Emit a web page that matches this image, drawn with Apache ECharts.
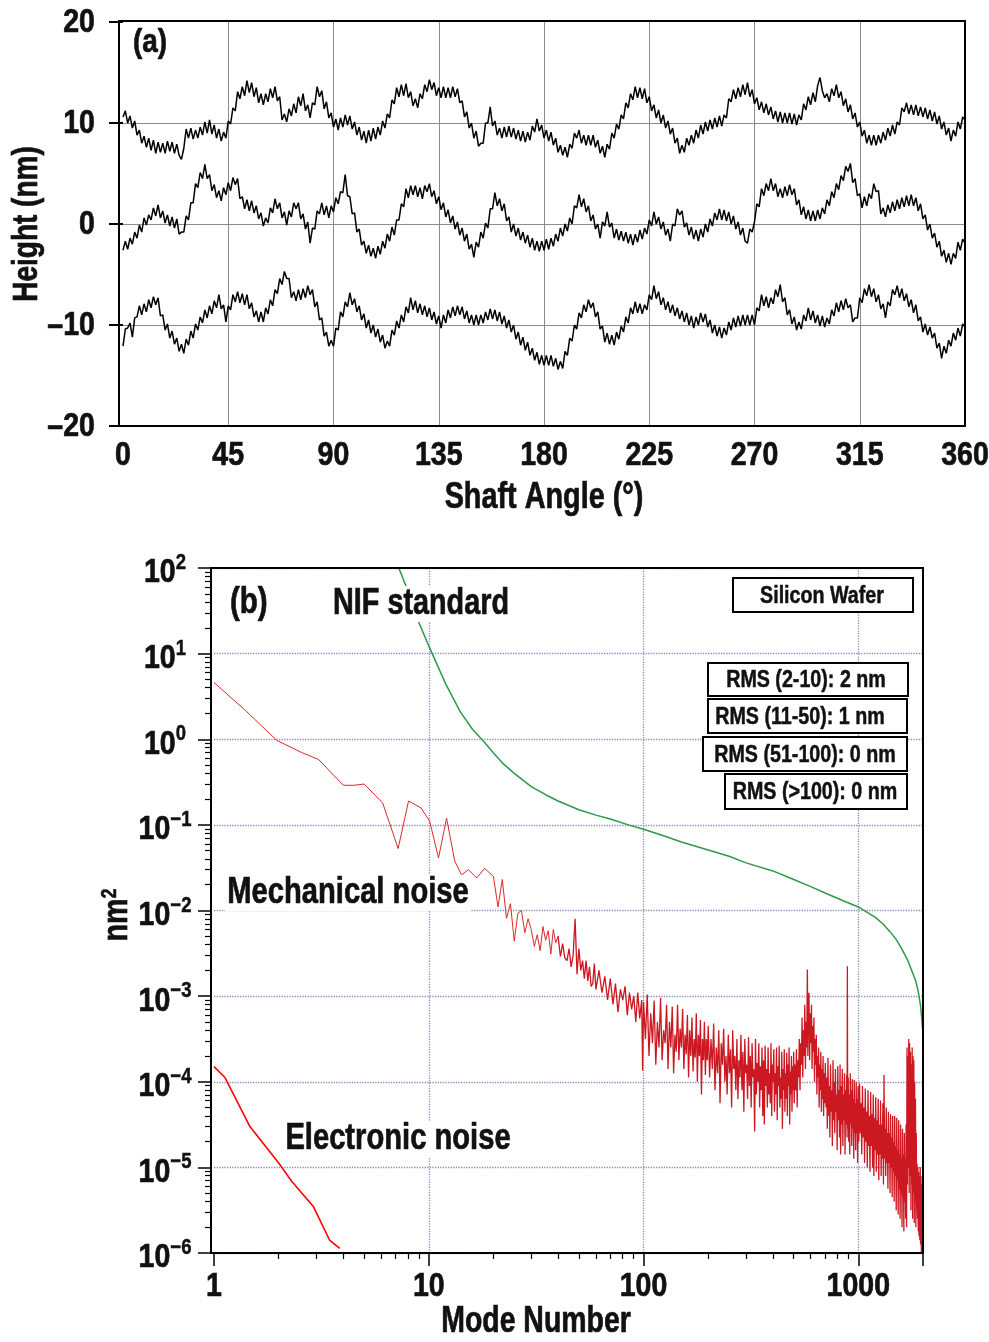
<!DOCTYPE html>
<html>
<head>
<meta charset="utf-8">
<script src="https://cdn.jsdelivr.net/npm/echarts@6/dist/echarts.min.js"></script>
<style>html,body{margin:0;padding:0;background:#fff}#c{width:989px;height:1342px}</style>
</head>
<body>
<div id="c"></div>
<script>
// ---------- DATA ----------
// (a) surface height traces, one value per degree of shaft angle (0..360)
const angleStep = 1;
const traceTop = [
10.6,11.2,10.0,10.7,9.5,10.2,8.8,9.3,8.0,8.7,
7.6,8.5,7.3,8.3,7.0,8.1,7.1,8.0,7.0,8.2,
7.2,8.1,7.0,7.9,6.8,6.4,7.5,9.4,8.5,9.5,
8.4,9.3,8.5,9.6,8.8,10.1,9.0,10.3,8.9,9.8,
8.5,9.4,8.2,9.1,8.5,10.2,9.9,11.5,11.2,13.1,
12.4,13.6,12.7,14.2,13.0,14.0,12.6,13.5,12.0,12.9,
11.8,12.9,12.1,13.4,12.5,13.6,12.2,12.6,10.3,10.9,
10.1,11.4,10.7,11.9,11.0,12.6,11.7,12.9,11.2,11.8,
10.5,12.0,11.8,13.6,12.6,13.2,11.4,12.1,10.5,11.0,
9.6,10.4,9.3,10.5,9.6,10.8,9.8,10.7,9.4,10.1,
8.8,9.6,8.3,9.2,8.0,9.3,8.2,9.5,8.4,9.6,
8.8,10.2,9.5,10.9,10.5,12.3,11.9,13.5,12.6,13.8,
12.7,13.9,12.5,13.1,11.7,12.4,11.5,12.9,12.4,13.8,
13.1,14.3,13.3,14.0,12.7,13.5,12.5,13.6,12.5,13.5,
12.5,13.6,12.6,13.4,12.0,12.2,10.6,11.1,9.5,10.0,
8.5,9.2,7.7,8.0,8.0,10.0,10.0,11.6,9.7,10.2,
8.8,9.5,8.5,9.6,8.6,9.7,8.6,9.5,8.4,9.3,
8.2,9.2,8.1,9.1,8.3,9.7,9.1,10.4,9.2,9.8,
8.5,9.3,8.2,9.1,7.8,8.5,7.1,7.8,6.8,7.6,
6.6,7.9,7.5,9.0,8.5,9.3,8.0,8.8,7.8,8.8,
7.8,8.8,7.6,8.3,7.0,7.7,6.6,7.9,7.4,9.0,
8.5,9.9,9.4,10.8,10.4,12.0,11.5,12.9,12.3,13.6,
12.5,13.5,12.4,13.4,12.0,12.6,11.2,11.8,10.5,11.3,
10.0,10.8,9.5,10.2,8.9,9.5,8.0,8.5,7.0,7.8,
7.1,8.5,7.8,8.8,8.0,9.3,8.5,9.8,8.9,10.1,
9.2,10.3,9.4,10.5,9.6,10.7,9.7,10.8,10.5,12.4,
12.1,13.3,12.4,13.5,12.6,13.8,12.8,14.0,12.6,13.3,
11.9,12.5,11.3,12.1,11.0,11.9,10.8,11.6,10.4,11.2,
10.1,11.1,10.0,11.0,10.0,11.0,9.9,10.9,9.8,10.8,
10.3,11.9,11.3,12.6,11.8,13.0,12.1,13.7,14.5,13.2,
12.5,12.9,12.1,13.4,12.7,13.8,12.5,13.1,11.7,12.4,
11.1,11.8,10.4,11.0,9.6,10.1,8.7,9.3,8.0,8.8,
7.8,8.8,7.8,8.8,8.0,9.1,8.3,9.5,8.7,9.8,
8.9,10.1,9.8,11.5,11.1,12.0,10.9,11.8,10.8,11.8,
10.7,11.6,10.6,11.5,10.4,11.3,10.2,11.1,9.9,10.7,
9.4,10.1,8.8,9.5,8.2,9.3,8.7,10.1,9.4,10.6,10.3];
const traceMid = [
-2.6,-1.7,-2.5,-1.4,-2.0,-0.8,-1.4,-0.1,-0.8,0.6,
-0.1,0.9,0.4,1.6,0.8,1.9,0.6,1.3,0.1,0.9,
-0.2,0.7,-0.4,0.5,-1.0,-0.8,-0.8,0.8,0.4,2.1,
2.1,4.0,3.6,5.1,4.5,5.9,4.5,4.9,3.3,3.9,
2.6,3.3,2.3,3.6,2.9,4.1,3.3,4.6,3.9,4.5,
2.5,2.7,1.5,2.4,1.3,2.3,1.1,1.8,0.5,1.1,
-0.2,0.6,0.1,1.6,1.1,2.5,1.5,2.1,0.6,1.2,
-0.1,1.3,0.7,2.1,1.5,2.1,0.5,1.0,-0.5,0.2,
-1.9,-0.4,-0.5,1.3,1.0,2.1,0.9,1.8,0.6,1.8,
1.2,2.6,2.0,3.2,3.1,4.9,2.8,2.7,1.0,1.1,
-0.8,-0.5,-2.1,-1.7,-2.9,-2.1,-3.2,-2.4,-3.4,-2.2,
-3.0,-1.7,-2.4,-1.0,-1.7,-0.3,-1.1,0.4,0.4,2.0,
1.7,3.5,2.6,3.8,2.9,3.8,2.7,3.6,2.5,3.8,
3.2,4.0,2.7,3.3,2.0,2.7,1.4,2.1,0.7,1.4,
0.1,0.8,-0.5,0.2,-1.1,-0.4,-1.7,-1.0,-2.5,-2.0,
-3.3,-1.8,-2.3,-0.8,-1.4,0.1,-0.4,1.5,1.5,3.1,
1.8,2.5,1.3,2.0,0.3,0.7,-0.8,0.0,-1.2,-0.4,
-1.6,-0.8,-1.9,-1.1,-2.3,-1.4,-2.6,-1.7,-2.7,-1.7,
-2.6,-1.5,-2.5,-1.4,-2.2,-1.0,-1.7,-0.4,-1.2,0.0,
-0.7,0.6,0.0,1.8,1.6,2.9,1.7,2.5,1.2,1.8,
0.3,0.9,-0.5,0.0,-1.4,0.2,-0.2,1.2,-0.3,0.1,
-1.4,-0.5,-1.6,-0.7,-1.7,-0.8,-1.9,-1.0,-2.1,-1.0,
-1.8,-0.6,-1.5,-0.4,-1.0,0.4,-0.2,1.2,0.0,0.7,
-0.5,0.2,-1.1,-0.5,-1.7,0.0,-0.2,1.5,0.9,1.3,
-0.3,0.1,-1.1,-0.3,-1.5,-0.6,-1.7,-0.5,-1.3,0.0,
-0.8,0.5,-0.2,1.1,0.4,1.5,0.4,1.4,0.3,1.2,
0.0,0.8,-0.5,0.2,-1.1,-0.4,-1.7,-1.9,-0.5,-0.8,
0.2,2.0,1.7,3.5,2.8,4.0,3.3,4.5,3.3,4.0,
2.7,3.5,2.6,3.7,2.8,3.9,2.9,3.5,1.9,2.4,
0.9,1.7,0.5,1.4,0.3,1.3,0.3,1.4,0.5,1.6,
1.0,2.4,1.8,3.2,2.6,4.0,3.4,4.8,4.3,5.7,
5.2,6.0,4.1,4.5,2.8,3.0,1.6,2.7,1.8,3.0,
2.5,4.0,3.2,3.3,1.0,1.6,0.7,1.9,1.1,2.2,
1.3,2.4,1.5,2.6,1.7,2.8,1.8,2.9,1.8,2.6,
1.3,2.0,0.5,0.9,-0.6,0.0,-1.4,-0.9,-2.3,-1.7,
-3.2,-2.6,-3.8,-2.9,-4.0,-2.9,-3.4,-1.8,-2.6,-1.5,-1.9];
const traceLow = [
-12.1,-10.4,-10.3,-9.8,-11.2,-9.3,-9.2,-8.1,-9.0,-7.9,
-8.7,-7.5,-8.3,-7.2,-8.0,-7.3,-9.1,-9.0,-10.5,-9.9,
-11.3,-10.6,-11.9,-11.3,-12.6,-11.9,-12.8,-11.4,-12.0,-10.6,
-11.3,-9.9,-10.5,-9.2,-9.8,-8.5,-9.3,-8.1,-8.9,-7.6,
-8.3,-7.0,-8.4,-8.0,-9.7,-8.1,-8.5,-7.0,-7.7,-6.7,
-7.8,-6.9,-8.0,-7.0,-8.4,-7.8,-9.2,-8.6,-9.7,-8.7,
-9.7,-8.3,-8.9,-7.5,-8.1,-6.5,-6.9,-5.4,-6.0,-4.7,
-5.4,-5.4,-7.3,-6.7,-7.6,-6.5,-7.5,-6.4,-7.3,-6.1,
-7.0,-6.5,-8.2,-7.7,-9.5,-9.3,-11.1,-10.7,-12.1,-11.5,
-12.1,-10.3,-10.5,-8.7,-9.2,-7.7,-8.2,-6.8,-8.0,-7.4,
-8.7,-8.1,-9.5,-8.9,-10.3,-9.5,-10.8,-10.0,-11.2,-10.4,
-11.7,-11.0,-12.3,-11.6,-12.1,-10.5,-11.0,-9.6,-10.3,-9.0,
-9.7,-8.2,-8.8,-7.3,-8.5,-7.6,-8.8,-7.9,-9.0,-8.1,
-9.2,-8.3,-9.5,-8.7,-9.9,-9.1,-10.3,-9.0,-9.8,-8.5,
-9.3,-8.2,-9.1,-8.1,-9.0,-8.2,-9.4,-8.6,-9.8,-9.0,
-10.0,-9.0,-10.0,-9.0,-9.8,-8.7,-9.5,-8.4,-9.4,-8.5,
-9.6,-8.7,-9.9,-9.1,-10.3,-9.5,-10.7,-10.0,-11.4,-10.7,
-12.0,-11.2,-12.5,-11.7,-13.0,-12.3,-13.5,-12.7,-13.9,-13.0,
-14.0,-13.0,-14.0,-13.0,-14.1,-13.3,-14.4,-13.6,-14.3,-12.6,
-13.0,-11.3,-11.6,-10.0,-10.4,-8.8,-9.3,-8.0,-8.7,-7.5,
-8.3,-7.8,-9.2,-8.7,-10.4,-10.1,-11.7,-10.8,-11.9,-11.0,
-12.0,-10.7,-11.4,-10.1,-10.7,-9.2,-9.8,-8.3,-8.9,-7.7,
-8.8,-7.9,-8.9,-8.0,-8.5,-7.0,-7.5,-6.1,-7.4,-6.7,
-8.0,-7.3,-8.5,-7.7,-8.8,-8.0,-9.1,-8.3,-9.4,-8.6,
-9.7,-8.8,-10.0,-9.1,-10.3,-9.2,-10.0,-8.8,-9.7,-8.9,
-10.2,-9.5,-10.8,-10.0,-11.1,-10.2,-11.3,-10.3,-11.0,-9.7,
-10.5,-9.3,-10.2,-9.1,-10.1,-9.0,-10.0,-9.0,-10.0,-9.0,
-10.0,-8.3,-8.6,-7.0,-8.1,-7.2,-8.3,-7.3,-7.9,-6.5,
-7.2,-6.0,-7.7,-7.3,-9.0,-8.5,-9.9,-9.2,-10.5,-9.7,
-10.4,-9.0,-9.6,-8.3,-9.5,-8.6,-9.8,-9.0,-10.1,-9.1,
-10.2,-9.3,-9.9,-8.5,-9.1,-7.8,-8.7,-7.6,-8.5,-7.4,
-8.3,-8.0,-9.7,-9.3,-9.3,-7.3,-7.8,-6.4,-7.1,-6.0,
-7.2,-6.4,-7.7,-7.0,-8.4,-7.9,-9.3,-7.7,-8.1,-6.5,
-7.0,-6.1,-7.3,-6.4,-7.6,-6.9,-8.2,-7.5,-8.8,-8.0,
-9.6,-9.2,-10.7,-9.9,-11.0,-10.2,-11.3,-10.8,-12.3,-11.8,
-13.3,-12.1,-12.8,-11.5,-12.1,-10.8,-11.5,-10.3,-11.1,-9.9,-10.2];

// (b) power spectra [mode number, nm^2]
const nifStandard = [
[7,125],[8,54],[9,23],[10,12.3],[11,7.2],[12,4.4],[13,3.0],[14,2.1],[16,1.3],[18,0.95],[20,0.69],[22,0.53],
[25,0.4],[30,0.28],[35,0.225],[40,0.19],[50,0.15],[60,0.13],[70,0.117],[85,0.1],[100,0.089],[125,0.074],
[150,0.063],[200,0.051],[250,0.043],[300,0.036],[400,0.029],[500,0.023],[600,0.019],[700,0.016],[850,0.013],
[1000,0.011],[1100,0.0095],[1200,0.0083],[1300,0.007],[1400,0.0057],[1500,0.0046],[1600,0.0035],[1700,0.0026],
[1800,0.0018],[1850,0.0015],[1900,0.00114],[1950,0.00076],[1980,0.0005],[2000,0.00035],[2000,0.000145]];
// mechanical noise, modes 1..99: [mode, nm^2]
const mechanicalNoise = [
[1,4.6],[1.42,2.1],[1.96,0.97],[2.56,0.7],[3.07,0.58],[4,0.29],[4.5,0.29],[5,0.3],[6.1,0.18],[7.2,0.053],
[8.05,0.19],[9.2,0.158],[10.1,0.11],[11.1,0.041],[12.1,0.12],[13.2,0.038],[14.2,0.026],[15.3,0.03],[16.7,0.024],
[18.2,0.031],[20,0.025],[21,0.011],[22,0.023],[23,0.0081],[24,0.012],[25,0.0044],[26,0.0093],[27,0.01],[28,0.0055],
[29,0.008],[30,0.006],[31,0.0038],[32,0.0052],[33,0.0034],[34,0.0065],[35,0.0045],[36,0.0058],[37,0.0031],[38,0.006],
[39,0.0042],[40,0.005],[41,0.0029],[42,0.0041],[43,0.0028],[44,0.0026],[45,0.0036],[46,0.0022],[47,0.003],[48,0.008],
[49,0.0018],[50,0.0036],[51,0.002],[52,0.0026],[53,0.0016],[54,0.0026],[55,0.0015],[56,0.0022],[57,0.0013],[58,0.0014],
[59,0.0024],[60,0.0012],[62,0.002],[64,0.0011],[66,0.0017],[68,0.0009],[70,0.0016],[72,0.0008],[74,0.0014],[76,0.00065],
[78,0.0012],[80,0.0009],[82,0.0013],[84,0.0006],[86,0.0011],[88,0.0007],[90,0.001],[92,0.0005],[94,0.0011],[96,0.00055],
[98,0.0009],[99,0.000135]];
const mechanicalNoiseHighLog10 = [
[100,-3.07],[102,-3.5],[104,-2.98],[106,-3.7],[108,-3.2],[110,-3.55],[112,-3.05],[114,-3.8],[116,-3.3],[118,-3.6],
[120,-3.02],[122,-3.75],[124,-3.4],[126,-3.55],[128,-3.1],[130,-3.85],[132,-3.3],[134,-3.6],[136,-3.12],[138,-3.9],
[140,-3.45],[142,-3.65],[144,-3.1],[146,-3.75],[148,-3.38],[150,-3.6],[152,-3.15],[154,-3.85],[156,-3.45],[158,-3.68],
[160,-3.22],[162,-3.95],[164,-3.4],[166,-3.7],[168,-3.25],[170,-3.88],[172,-3.5],[174,-3.72],[176,-3.2],[178,-4.0],
[180,-3.45],[182,-3.7],[184,-3.28],[186,-4.15],[188,-3.5],[190,-3.75],[192,-3.3],[194,-3.92],[196,-3.5],[198,-3.75],
[200,-3.35],[203,-3.95],[206,-3.5],[209,-3.85],[212,-3.32],[215,-4.1],[218,-3.6],[221,-3.9],[224,-3.4],[227,-4.25],
[230,-3.55],[233,-3.8],[236,-3.38],[239,-4.0],[242,-3.7],[245,-4.15],[248,-3.45],[251,-3.9],[254,-3.62],[257,-4.3],
[260,-3.4],[263,-3.85],[266,-3.7],[269,-4.1],[272,-3.5],[275,-4.2],[278,-3.75],[281,-3.95],[284,-3.45],[287,-4.1],
[290,-3.65],[293,-4.35],[296,-3.5],[299,-3.9],[302,-3.8],[305,-4.2],[308,-3.48],[311,-4.05],[314,-3.7],[317,-4.3],
[320,-3.55],[323,-3.95],[326,-3.85],[329,-4.58],[332,-3.5],[335,-4.15],[338,-3.78],[341,-4.0],[344,-3.55],[347,-4.3],
[350,-3.82],[353,-4.1],[356,-3.6],[359,-4.4],[362,-3.75],[365,-4.5],[368,-3.58],[371,-4.05],[374,-3.85],[377,-4.3],
[380,-3.6],[383,-4.15],[386,-3.9],[389,-4.25],[392,-3.55],[395,-4.4],[398,-3.8],[401,-4.0],[404,-3.62],[407,-4.35],
[410,-3.9],[413,-4.15],[416,-3.6],[419,-4.45],[422,-3.82],[425,-4.05],[428,-3.58],[431,-4.3],[434,-3.95],[437,-4.2],
[440,-3.65],[443,-4.55],[446,-3.85],[449,-4.1],[452,-3.62],[455,-4.35],[458,-3.9],[461,-4.2],[464,-3.66],[467,-4.4],
[470,-3.8],[473,-4.05],[476,-3.6],[479,-4.5],[482,-3.88],[485,-4.15],[488,-3.7],[491,-4.35],[494,-3.82],[497,-4.1],
[500,-3.65],[503,-4.25],[507,-3.8],[511,-4.1],[515,-3.62],[519,-4.3],[523,-3.75],[527,-3.95],[531,-3.5],[535,-4.1],
[539,-3.55],[543,-3.8],[547,-3.25],[551,-3.95],[555,-3.4],[559,-3.7],[563,-3.1],[567,-3.85],[571,-3.3],[575,-3.6],
[579,-2.69],[582,-3.7],[585,-3.05],[589,-2.96],[593,-3.75],[597,-3.2],[601,-3.55],[605,-3.1],[609,-3.85],[613,-3.35],
[617,-3.65],[621,-3.25],[625,-4.0],[629,-3.5],[633,-3.8],[637,-3.45],[641,-4.15],[645,-3.7],[649,-3.95],[653,-3.6],
[657,-4.3],[661,-3.8],[665,-4.1],[669,-3.65],[673,-4.35],[677,-3.85],[681,-4.2],[685,-3.7],[689,-4.4],[693,-3.9],
[697,-4.25],[702,-3.78],[707,-4.3],[712,-3.95],[717,-4.55],[722,-3.72],[727,-4.4],[732,-4.05],[737,-4.65],[742,-3.8],
[747,-4.35],[752,-4.1],[757,-4.75],[762,-3.75],[767,-4.45],[772,-4.0],[777,-4.6],[782,-3.85],[787,-4.35],[792,-4.15],
[797,-4.8],[802,-3.82],[807,-4.45],[812,-4.1],[817,-4.65],[822,-3.8],[827,-4.85],[832,-4.05],[837,-4.5],[842,-3.85],
[847,-4.75],[852,-4.15],[857,-4.45],[862,-3.9],[867,-4.85],[872,-4.1],[877,-4.5],[882,-3.92],[886,-4.65],[889,-2.65],
[892,-4.55],[897,-3.95],[902,-4.7],[907,-4.15],[912,-4.85],[917,-3.9],[922,-4.5],[927,-4.1],[932,-4.75],[937,-3.97],
[942,-4.55],[947,-4.2],[952,-4.9],[957,-3.98],[962,-4.6],[967,-4.25],[972,-4.8],[977,-4.0],[982,-4.6],[987,-4.2],
[992,-4.95],[997,-4.05],[1005,-4.7],[1013,-4.02],[1021,-4.6],[1029,-4.25],[1037,-4.85],[1045,-4.05],[1053,-4.65],[1061,-4.3],
[1069,-4.95],[1077,-4.08],[1085,-4.7],[1093,-4.35],[1101,-5.0],[1109,-4.1],[1117,-4.75],[1125,-4.4],[1133,-5.05],[1141,-4.12],
[1149,-4.75],[1157,-4.38],[1165,-5.0],[1173,-4.15],[1181,-5.1],[1189,-4.42],[1197,-4.8],[1205,-4.18],[1213,-5.05],[1221,-4.45],
[1229,-4.85],[1237,-4.2],[1245,-5.15],[1253,-4.5],[1261,-4.85],[1269,-4.22],[1277,-5.1],[1285,-4.5],[1293,-4.9],[1301,-4.25],
[1309,-5.2],[1317,-3.92],[1325,-4.9],[1333,-4.55],[1341,-5.1],[1349,-4.3],[1357,-4.95],[1365,-4.6],[1373,-5.25],[1381,-4.35],
[1389,-4.95],[1397,-4.6],[1405,-5.3],[1413,-4.38],[1421,-5.0],[1429,-4.65],[1437,-5.35],[1445,-4.4],[1453,-5.05],[1461,-4.7],
[1469,-5.4],[1477,-4.4],[1485,-5.1],[1493,-4.75],[1501,-5.5],[1509,-4.42],[1517,-5.15],[1525,-4.8],[1533,-5.55],[1541,-4.45],
[1549,-5.25],[1557,-4.85],[1565,-5.6],[1573,-4.5],[1581,-5.3],[1589,-4.9],[1597,-5.7],[1605,-4.55],[1613,-5.35],[1621,-4.85],
[1629,-5.75],[1637,-4.6],[1645,-5.4],[1653,-4.9],[1661,-5.6],[1669,-4.5],[1677,-5.7],[1685,-3.6],[1693,-5.2],[1701,-3.7],
[1709,-5.0],[1717,-3.5],[1725,-5.3],[1733,-3.55],[1741,-5.1],[1749,-3.65],[1757,-5.5],[1765,-3.8],[1773,-5.2],[1781,-3.6],
[1789,-5.6],[1797,-3.7],[1805,-5.3],[1813,-3.75],[1821,-5.65],[1829,-4.0],[1837,-5.4],[1845,-4.2],[1853,-5.7],[1861,-4.6],
[1869,-5.5],[1877,-4.96],[1885,-5.6],[1893,-5.0],[1901,-5.75],[1909,-5.05],[1917,-5.8],[1925,-5.1],[1933,-5.85],[1941,-5.0],
[1949,-5.9],[1957,-5.1],[1965,-6.0],[1973,-5.2],[1981,-6.1],[1989,-5.3],[1997,-6.3],[2000,-6.5]];
const electronicNoise = [[1,0.00015],[1.125,0.000112],[1.47,0.00003],[2.03,0.0000107],[2.3,0.0000069],[2.9,0.0000035],[3.46,0.0000014],[3.85,0.00000113]];

// tick labels
const xTicksTop = [0, 45, 90, 135, 180, 225, 270, 315, 360];
const yTicksTop = [-20, -10, 0, 10, 20];
const xTicksBottom = [1, 10, 100, 1000];
const yExpBottom = [2, 1, 0, -1, -2, -3, -4, -5, -6];
const rmsLabels = ['RMS (2-10): 2 nm', 'RMS (11-50): 1 nm', 'RMS (51-100): 0 nm', 'RMS (>100): 0 nm'];

// ---------- CHART ----------
const F = '"Liberation Sans", Arial, sans-serif';
const INK = '#111';
const SX = 0.82;
const STROKE = 0.7;
const font = s => 'bold ' + s + 'px ' + F;
const gray = '#8c8c8c', dot = '#8a8ac6';
const sup = n => (n < 0 ? '\u2212' + (-n) : '' + n);

const mechHigh = mechanicalNoise.filter(p => p[0] >= 40)
  .concat(mechanicalNoiseHighLog10.map(p => [p[0], Math.pow(10, p[1])]));
const mechLow = mechanicalNoise.filter(p => p[0] <= 40);

const chart = echarts.init(document.getElementById('c'), null, {renderer: 'canvas'});

function textEl(text, x, y, size, align, opts) {
  opts = opts || {};
  return {type: 'text', x: x, y: y, z: 60, scaleX: opts.sx || SX, rotation: opts.rot || 0,
    style: {text: text, font: font(size), fill: INK, stroke: INK, lineWidth: STROKE, align: align || 'center', verticalAlign: 'middle',
      backgroundColor: opts.bg ? '#fff' : null, padding: opts.bg ? [0, 3, 0, 3] : 0}};
}
function boxEl(text, bx, by, bw, bh, tx) {
  return {type: 'group', z: 70, children: [
    {type: 'rect', shape: {x: bx, y: by, width: bw, height: bh}, style: {fill: '#fff', stroke: '#000', lineWidth: 2}, z: 70},
    {type: 'text', x: tx, y: by + bh / 2 + 1, z: 71, scaleX: SX,
      style: {text: text, font: font(24), fill: INK, stroke: INK, lineWidth: 0.5, align: 'center', verticalAlign: 'middle'}}
  ]};
}
function powEl(e, x, y) {
  return {type: 'text', x: x, y: y, z: 60, scaleX: 0.84,
    style: {text: '{b|10}{s|' + sup(e) + '}', align: 'center', verticalAlign: 'middle', fill: INK,
      rich: {
        b: {font: font(34), fill: INK, stroke: INK, lineWidth: STROKE, lineHeight: 44, verticalAlign: 'bottom'},
        s: {font: font(22), fill: INK, stroke: INK, lineWidth: 0.5, height: 34, verticalAlign: 'top'}
      }}};
}

const noLabel = {show: false};
const option = {
  animation: false,
  backgroundColor: '#fff',
  grid: [
    {left: 123, top: 22, width: 842, height: 404},
    {left: 214, top: 568, width: 709, height: 685}
  ],
  xAxis: [
    {gridIndex: 0, type: 'value', min: 0, max: 360, interval: 45,
      axisLine: {show: false}, axisTick: {show: false}, axisLabel: noLabel,
      splitLine: {show: true, lineStyle: {color: ['transparent', gray, gray, gray, gray, gray, gray, gray, 'transparent'], width: 1}}},
    {gridIndex: 1, type: 'log', logBase: 10, min: 1, max: 2000,
      axisLine: {show: false},
      axisTick: {show: true, length: 13, lineStyle: {color: '#000', width: 1.5}},
      minorTick: {show: true, splitNumber: 9, length: 6, lineStyle: {color: '#000', width: 1.2}},
      axisLabel: noLabel,
      splitLine: {show: true, lineStyle: {type: 'dotted', width: 1.3, color: ['transparent', dot, dot, dot, 'transparent']}}}
  ],
  yAxis: [
    {gridIndex: 0, type: 'value', min: -20, max: 20, interval: 10, offset: 4,
      axisLine: {show: false},
      axisTick: {show: true, length: 14, lineStyle: {color: '#000', width: 2}},
      axisLabel: noLabel,
      splitLine: {show: true, lineStyle: {color: ['transparent', gray, gray, gray, 'transparent'], width: 1}}},
    {gridIndex: 1, type: 'log', logBase: 10, min: 1e-6, max: 100, offset: 3,
      axisLine: {show: false},
      axisTick: {show: true, length: 13, lineStyle: {color: '#000', width: 1.5}},
      minorTick: {show: true, splitNumber: 9, length: 6, lineStyle: {color: '#000', width: 1.2}},
      axisLabel: noLabel,
      splitLine: {show: true, lineStyle: {type: 'dotted', width: 1.3, color: dot}}}
  ],
  series: [
    {type: 'line', xAxisIndex: 0, yAxisIndex: 0, showSymbol: false, silent: true,
      lineStyle: {color: '#000', width: 1.5}, data: traceTop.map((v, i) => [i * angleStep, v])},
    {type: 'line', xAxisIndex: 0, yAxisIndex: 0, showSymbol: false, silent: true,
      lineStyle: {color: '#000', width: 1.5}, data: traceMid.map((v, i) => [i * angleStep, v])},
    {type: 'line', xAxisIndex: 0, yAxisIndex: 0, showSymbol: false, silent: true,
      lineStyle: {color: '#000', width: 1.5}, data: traceLow.map((v, i) => [i * angleStep, v])},
    {name: 'Mechanical noise', type: 'line', xAxisIndex: 1, yAxisIndex: 1, showSymbol: false, silent: true,
      lineStyle: {color: '#dc2a2a', width: 1}, data: mechLow},
    {name: 'Mechanical noise', type: 'line', xAxisIndex: 1, yAxisIndex: 1, showSymbol: false, silent: true,
      lineStyle: {color: '#cc1820', width: 1.3}, data: mechHigh},
    {name: 'Electronic noise', type: 'line', xAxisIndex: 1, yAxisIndex: 1, showSymbol: false, silent: true,
      lineStyle: {color: '#ff0000', width: 1.6}, data: electronicNoise},
    {name: 'NIF standard', type: 'line', xAxisIndex: 1, yAxisIndex: 1, showSymbol: false, silent: true,
      lineStyle: {color: '#2e9a48', width: 1.5}, data: nifStandard}
  ]
};
chart.setOption(option);

// ---------- TEXT (tick label positions come from the chart's own scales) ----------
const G = [
  {type: 'rect', z: 80, shape: {x: 119, y: 21, width: 846, height: 405}, style: {fill: 'transparent', stroke: '#000', lineWidth: 2}},
  {type: 'rect', z: 80, shape: {x: 211, y: 568, width: 712, height: 685}, style: {fill: 'transparent', stroke: '#000', lineWidth: 2}}
];
xTicksTop.forEach(v => {
  const p = chart.convertToPixel({gridIndex: 0}, [v, -20]);
  G.push(textEl(String(v), p[0], p[1] + 30, 34, 'center', {sx: 0.84}));
});
yTicksTop.forEach(v => {
  const p = chart.convertToPixel({gridIndex: 0}, [0, v]);
  G.push(textEl(v < 0 ? '\u2013' + (-v) : String(v), 95, p[1] + 1, 34, 'right', {sx: 0.84}));
});
xTicksBottom.forEach(v => {
  const p = chart.convertToPixel({gridIndex: 1}, [v, 1e-6]);
  G.push(textEl(String(v), p[0], p[1] + 34, 34, 'center', {sx: 0.84}));
});
yExpBottom.forEach(e => {
  const p = chart.convertToPixel({gridIndex: 1}, [1, Math.pow(10, e)]);
  G.push(powEl(e, 165, p[1]));
});
// axis titles
G.push(textEl('Shaft Angle (\u00B0)', 544, 498, 36, 'center', {sx: 0.8}));
G.push(textEl('Height (nm)', 27, 224, 35, 'center', {sx: 0.8, rot: Math.PI / 2}));
G.push({type: 'text', x: 115, y: 915, z: 60, scaleX: 0.82, rotation: Math.PI / 2,
  style: {text: '{a|nm}{b|2}', align: 'center', verticalAlign: 'middle', fill: INK,
    rich: {a: {font: font(35), fill: INK, stroke: INK, lineWidth: STROKE, lineHeight: 40, verticalAlign: 'bottom'},
           b: {font: font(22), fill: INK, stroke: INK, lineWidth: 0.5, height: 30, verticalAlign: 'top'}}}});
G.push(textEl('Mode Number', 536, 1322, 36, 'center', {sx: 0.79}));
// annotations
G.push(textEl('(a)', 133, 43, 34, 'left'));
G.push(textEl('(b)', 230, 603, 36, 'left'));
G.push(textEl('NIF standard', 421, 604, 36, 'center', {bg: true, sx: 0.8}));
G.push(textEl('Mechanical noise', 348, 893, 36, 'center', {bg: true, sx: 0.81}));
G.push(textEl('Electronic noise', 398, 1139, 36, 'center', {bg: true, sx: 0.81}));
G.push(boxEl('Silicon Wafer', 733, 578, 180, 34, 822));
G.push(boxEl(rmsLabels[0], 708, 663, 200, 33, 806));
G.push(boxEl(rmsLabels[1], 708, 699, 199, 34, 800));
G.push(boxEl(rmsLabels[2], 703, 737, 204, 34, 805));
G.push(boxEl(rmsLabels[3], 725, 774, 182, 35, 815));
chart.setOption({graphic: G});
</script>
</body>
</html>
